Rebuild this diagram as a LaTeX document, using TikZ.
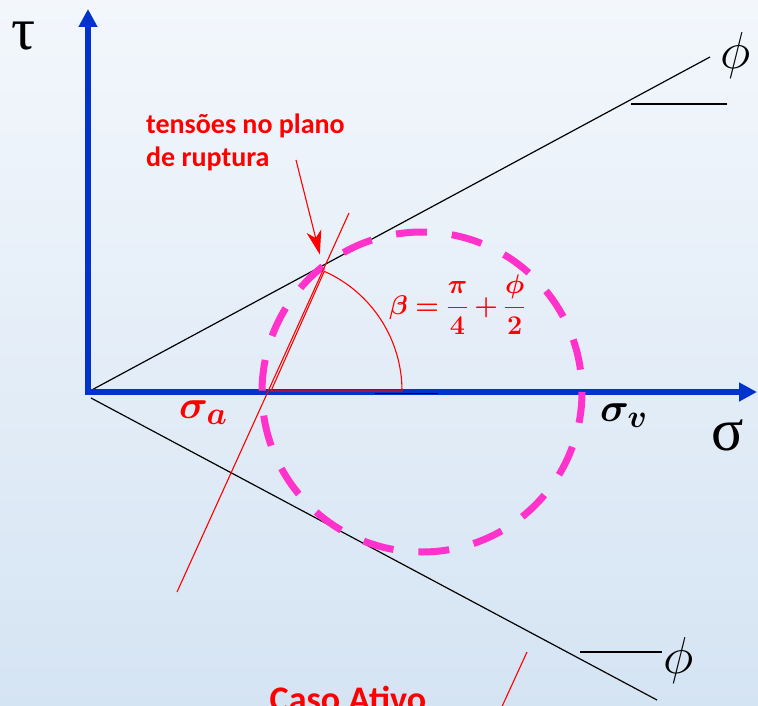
\RequirePackage{fix-cm}
\documentclass[tikz,border=0pt]{standalone}
\usepackage{amsmath, amssymb}
\usepackage{bm}
\usepackage{fontspec}
\usepackage{xcolor}
\newfontfamily\lblfont{Carlito}
\newfontfamily\grkfont{Liberation Serif}
\DeclareMathSizes{40}{40}{32}{24}
\usetikzlibrary{arrows.meta}
\definecolor{axisblue}{RGB}{0,51,204}
\definecolor{circmag}{RGB}{255,51,204}
\definecolor{bgtop}{RGB}{243,247,252}
\definecolor{bgbot}{RGB}{213,228,243}

\begin{document}
\begin{tikzpicture}[x=1pt, y=-1pt,
    axis/.style={line width=5.5pt, axisblue, line cap=rect, -{Triangle[length=18pt, width=18pt]}},
    envelope/.style={black, line width=1.2pt},
    redline/.style={red, line width=1.1pt},
    lbl/.style={red, inner sep=0pt, font=\lblfont\bfseries\fontsize{#1}{33}\selectfont},
    bigsym/.style={inner sep=0pt, font=\grkfont\fontsize{60}{60}\selectfont},
    phisym/.style={inner sep=0pt, font=\fontsize{52}{52}\selectfont},
    sigsym/.style={inner sep=0pt, font=\fontsize{40}{40}\selectfont}]
  % Background
  \shade[top color=bgtop, bottom color=bgbot] (0,0) rectangle (758,706);
  \useasboundingbox (0,0) rectangle (758,706);
  \clip (0,0) rectangle (758,706);
  % Points
  \coordinate (O) at (88,392);
  \coordinate (tauTip) at (88,9);
  \coordinate (sigTip) at (757,392);
  \coordinate (C) at (422,392);
  \coordinate (A) at (271,391);
  \coordinate (B) at (402,391);
  \coordinate (pole) at (324,271);
  % Failure envelopes
  \coordinate (envTop) at (710,57);
  \coordinate (envLowStart) at (91,398);
  \coordinate (envLow) at (657,700);
  \draw[envelope] (O) -- (envTop);
  \draw[envelope] (envLowStart) -- (envLow);
  \coordinate (phiTopL) at (631,104);
  \coordinate (phiTopR) at (727,104);
  \draw[envelope] (phiTopL) -- (phiTopR);
  \coordinate (phiLowL) at (580,652);
  \coordinate (phiLowR) at (662,652);
  \draw[envelope] (phiLowL) -- (phiLowR);
  % Axes
  \draw[axis] (O) -- (tauTip);
  \draw[axis] (O) -- (sigTip);
  % Mohr circle
  \draw[circmag, line width=7pt, dash pattern=on 31pt off 25pt] (C) circle (160);
  % Failure plane and angle beta
  \coordinate (planeLow) at (177,592);
  \coordinate (planeTop) at (349,213);
  \draw[redline] (planeLow) -- (planeTop);
  \draw[redline] (A) -- (B) arc[start angle=0, end angle=-66, radius=131] -- cycle;
  \coordinate (refL) at (375,393.5);
  \coordinate (refR) at (438,393.5);
  \draw[black, line width=1pt] (refL) -- (refR);
  \coordinate (plane2Top) at (527,652);
  \coordinate (plane2Low) at (494,724);
  \draw[redline] (plane2Top) -- (plane2Low);
  % Pointer to the pole
  \coordinate (arrTail) at (296,160);
  \draw[redline, shorten >=17pt, -{Stealth[length=24pt, width=15pt, inset=7pt]}] (arrTail) -- (pole);
  % Labels
  \node[lbl=28, anchor=north west, align=left] (tensao) at (146,114) {tensões no plano\\de ruptura};
  \node[lbl=36, anchor=base] (caso) at (348,711) {Caso Ativo};
  \node[red, anchor=base west, inner sep=0pt, font=\fontsize{27}{30}\selectfont] (beta) at (389,314)
    {$\bm{\beta=\dfrac{\pi}{4}+\dfrac{\phi}{2}}$};
  \node[sigsym, red, anchor=base west] (sigA) at (179,418) {$\bm{\sigma}_{\bm{a}}$};
  \node[sigsym, anchor=base west] (sigV) at (600,421) {$\bm{\sigma}_{\bm{v}}$};
  \node[bigsym, anchor=base west] (tau) at (11,50) {τ};
  \node[bigsym, anchor=base west] (sig) at (711,450) {σ};
  \node[phisym, anchor=base west] (phiUp) at (720,69) {$\phi$};
  \node[phisym, anchor=base west] (phiLow) at (663,673) {$\phi$};
\end{tikzpicture}
\end{document}
